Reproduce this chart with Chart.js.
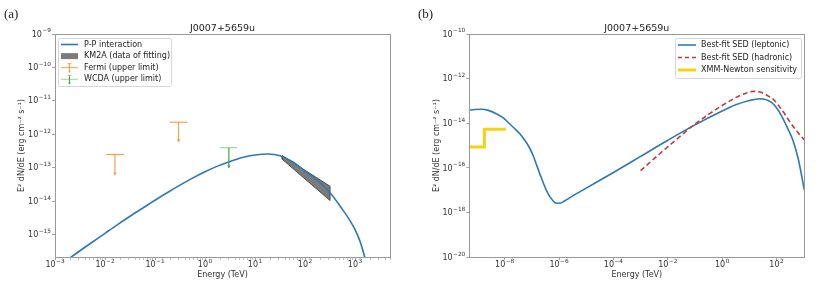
<!DOCTYPE html>
<html>
<head>
<meta charset="utf-8">
<script src="https://cdn.jsdelivr.net/npm/chart.js@4/dist/chart.umd.min.js"></script>
<style>
  html, body { margin: 0; padding: 0; background: #fff; }
  #wrap { position: relative; width: 831px; height: 289px; overflow: hidden; }
  canvas { position: absolute; top: 0; }
</style>
</head>
<body>
<div id="wrap">
  <canvas id="chart-a" width="415" height="289" style="left:0"></canvas>
  <canvas id="chart-b" width="416" height="289" style="left:415px"></canvas>
</div>
<script>
  // source name shown above both panels
  var sourceName = 'J0007+5659u';
  var xTitle = 'Energy (TeV)';
  var yTitle = 'E\u00b2 dN/dE (erg cm\u207b\u00b2 s\u207b\u00b9)';

  // ---- panel (a): p-p model against KM2A / Fermi / WCDA ----
  var ppEnergy = [1.78e-3, 3.16e-3, 5.62e-3, 1e-2, 1.78e-2, 3.16e-2, 5.62e-2, 0.1, 0.178, 0.316, 0.562, 1, 1.78, 3.16, 5.62, 10, 17.8, 31.6, 56.2, 100, 178, 316, 562, 794, 1000, 1259, 1585];
  var ppFlux = [1.78e-16, 3.31e-16, 6.03e-16, 1.10e-15, 2.0e-15, 3.55e-15, 6.17e-15, 1.07e-14, 1.82e-14, 3.02e-14, 4.9e-14, 7.59e-14, 1.12e-13, 1.55e-13, 2.04e-13, 2.4e-13, 2.57e-13, 2.29e-13, 1.51e-13, 7.94e-14, 4.17e-14, 1.78e-14, 5.62e-15, 2.63e-15, 1.41e-15, 6.3e-16, 2.0e-16];

  var km2aEnergy = [35, 316];
  var km2aUpper = [2.3e-13, 2.8e-14];
  var km2aLower = [1.8e-13, 1.05e-14];

  var fermiEnergy = [0.0158, 0.295];
  var fermiELo = [0.0105, 0.195];
  var fermiEHi = [0.024, 0.447];
  var fermiUL = [2.5e-13, 2.3e-12];
  var fermiTip = [6.8e-14, 6.5e-13];

  var wcdaEnergy = [3.0];
  var wcdaELo = [2.0];
  var wcdaEHi = [4.4];
  var wcdaUL = [4.0e-13];
  var wcdaTip = [1.1e-13];

  var xExpA = [-3, -2, -1, 0, 1, 2, 3];
  var yExpA = [-15, -14, -13, -12, -11, -10, -9];

  // ---- panel (b): leptonic vs hadronic best fit, XMM sensitivity ----
  var lepEnergy = [4.8e-10, 7.9e-10, 1.38e-9, 2.5e-9, 4.9e-9, 8.9e-9, 1.51e-8, 2.5e-8, 3.55e-8, 5.5e-8, 7.9e-8, 1.12e-7, 1.48e-7, 2.24e-7, 3.39e-7, 4.47e-7, 6.0e-7, 7.9e-7, 1.12e-6, 1.58e-6, 3.16e-6, 1e-5, 1e-4, 1e-3, 1e-2, 0.1, 1, 3.16, 10, 25.1, 63.1, 100, 158, 251, 398, 631, 1047];
  var lepFlux = [3.8e-14, 4.17e-14, 4.27e-14, 3.8e-14, 2.69e-14, 1.74e-14, 9.55e-15, 5.37e-15, 3.47e-15, 1.74e-15, 8.7e-16, 3.55e-16, 1.41e-16, 3.55e-17, 1.02e-17, 5.5e-18, 3.39e-18, 2.63e-18, 2.69e-18, 3.31e-18, 5.62e-18, 1.26e-17, 6.3e-17, 3.31e-16, 1.74e-15, 8.5e-15, 3.55e-14, 6.76e-14, 1.05e-13, 1.26e-13, 8.9e-14, 5.0e-14, 2.0e-14, 6.3e-15, 1.78e-15, 2.51e-16, 1.05e-17];

  var hadEnergy = [1e-3, 3.16e-3, 1e-2, 3.16e-2, 0.1, 0.316, 1, 3.16, 7.9, 14.1, 25.1, 50.1, 79.4, 158, 316, 562, 1047];
  var hadFlux = [7.6e-17, 2.63e-16, 8.9e-16, 2.95e-15, 9.3e-15, 2.51e-14, 6.3e-14, 1.41e-13, 2.29e-13, 2.69e-13, 2.51e-13, 1.66e-13, 1.12e-13, 3.98e-14, 1.12e-14, 4.47e-15, 1.78e-15];

  var xmmEnergy = [4.8e-10, 1.8e-9, 1.8e-9, 1.1e-8];
  var xmmFlux = [8.7e-16, 8.7e-16, 5.4e-15, 5.4e-15];

  var xExpB = [-8, -6, -4, -2, 0, 2];
  var yExpB = [-20, -18, -16, -14, -12, -10];

  var FONT = 'DejaVu Sans';
  var BLUE = '#2e78b5';
  var RED = '#c23b3f';
  var ORANGE = 'rgba(255,127,14,0.75)';
  var GREEN = 'rgba(44,160,44,0.9)';
  var GREEN_CAP = 'rgba(44,160,44,0.45)';
  var YELLOW = '#f7d20e';
  var AXIS = '#999';
  var LABEL = '#333';

  function pts(xs, ys) {
    return xs.map(function (x, i) { return { x: x, y: ys[i] }; });
  }

  function tickList(exps, withMinor, lo, hi) {
    var out = [];
    exps.forEach(function (e) {
      out.push({ value: Math.pow(10, e), major: true, exp: e });
      if (withMinor) {
        for (var m = 2; m < 10; m++) out.push({ value: m * Math.pow(10, e), major: false });
      }
    });
    return out.filter(function (t) { return t.value >= lo * 0.999 && t.value <= hi * 1.001; })
      .sort(function (a, b) { return a.value - b.value; });
  }

  // upper-limit markers: cap line + stem with a small arrow tip
  function upperLimitSets(es, lo, hi, ul, tip, stemColor, capColor) {
    var sets = [];
    es.forEach(function (e, i) {
      sets.push({ data: [{ x: lo[i], y: ul[i] }, { x: hi[i], y: ul[i] }], borderColor: capColor, borderWidth: 1.2, pointRadius: 0, showLine: true });
      sets.push({ data: [{ x: e, y: ul[i] }, { x: e, y: tip[i] }], borderColor: stemColor, borderWidth: 1.2, showLine: true,
        pointRadius: [0, 2], pointStyle: 'triangle', rotation: 180, pointBackgroundColor: stemColor, pointBorderWidth: 0 });
    });
    return sets;
  }

  function scaleOpts(min, max, exps, minor, isX, padFit) {
    return {
      type: 'logarithmic',
      min: min,
      max: max,
      afterBuildTicks: function (s) { s.ticks = tickList(exps, minor, min, max); },
      afterFit: function (s) { if (isX) s.height = padFit; else s.width = padFit; },
      border: { display: false },
      grid: {
        display: true, drawOnChartArea: false, drawTicks: true, tickLength: 3,
        color: AXIS,
        lineWidth: function (ctx) { return ctx.tick && ctx.tick.major ? 0.9 : 0.6; }
      },
      ticks: {
        autoSkip: false, maxRotation: 0, minRotation: 0,
        font: { family: FONT, size: 8 },
        // labels are drawn by the frame plugin so the exponent can be raised
        callback: function () { return ''; }
      }
    };
  }

  // "10" with a raised exponent, anchored by alignment
  function drawPow(c, exp, x, y, align) {
    var base = '10';
    var sup = String(exp).replace('-', '\u2212');
    c.font = '8px ' + FONT;
    var wb = c.measureText(base).width;
    c.font = '5.8px ' + FONT;
    var ws = c.measureText(sup).width;
    var total = wb + ws + 0.5;
    var left = align === 'right' ? x - total : x - total / 2;
    c.textAlign = 'left';
    c.textBaseline = 'middle';
    c.font = '8px ' + FONT;
    c.fillText(base, left, y);
    c.font = '5.8px ' + FONT;
    c.fillText(sup, left + wb + 0.5, y - 3.6);
  }

  var framePlugin = {
    id: 'frame',
    afterDraw: function (chart, args, opts) {
      var c = chart.ctx, a = chart.chartArea;
      var xs = chart.scales.x, ys = chart.scales.y;
      c.save();
      c.strokeStyle = AXIS;
      c.lineWidth = 1;
      c.strokeRect(Math.round(a.left) + 0.5, Math.round(a.top) + 0.5, Math.round(a.right - a.left), Math.round(a.bottom - a.top));

      // tick labels
      c.fillStyle = LABEL;
      xs.ticks.forEach(function (t) {
        if (t.major) drawPow(c, t.exp, xs.getPixelForValue(t.value), a.bottom + 8, 'center');
      });
      ys.ticks.forEach(function (t) {
        if (t.major) drawPow(c, t.exp, a.left - 4, ys.getPixelForValue(t.value) + 0.5, 'right');
      });

      c.fillStyle = '#222';
      c.font = '13px "Liberation Serif"';
      c.textAlign = 'left';
      c.textBaseline = 'middle';
      c.fillText(opts.letter, opts.letterX, 15);

      c.font = '9.5px ' + FONT;
      c.textAlign = 'center';
      c.textBaseline = 'alphabetic';
      c.fillText(sourceName, (a.left + a.right) / 2, 31);

      c.fillStyle = LABEL;
      c.font = '8px ' + FONT;
      c.fillText(xTitle, (a.left + a.right) / 2, 277);
      c.save();
      c.translate(opts.yTitleX, (a.top + a.bottom) / 2);
      c.rotate(-Math.PI / 2);
      c.textBaseline = 'middle';
      c.fillText(yTitle, 0, 0);
      c.restore();

      // legend
      var L = opts.legend;
      c.fillStyle = 'rgba(255,255,255,0.85)';
      c.strokeStyle = '#d6d6d6';
      c.lineWidth = 1;
      c.beginPath();
      c.roundRect(L.x + 0.5, L.y + 0.5, L.w, L.h, 2);
      c.fill();
      c.stroke();
      L.items.forEach(function (it, i) {
        var y = L.y + L.first + i * L.step;
        var hx = L.x + 3, hw = L.handle;
        c.save();
        if (it.kind === 'line' || it.kind === 'dash') {
          c.strokeStyle = it.color;
          c.lineWidth = it.width;
          if (it.kind === 'dash') c.setLineDash([4, 3]);
          c.beginPath(); c.moveTo(hx, y); c.lineTo(hx + hw, y); c.stroke();
        } else if (it.kind === 'patch') {
          c.fillStyle = it.color;
          c.fillRect(hx, y - 3, hw, 6);
        } else if (it.kind === 'ul') {
          var mx = hx + hw / 2;
          c.strokeStyle = it.cap;
          c.lineWidth = 1;
          c.beginPath(); c.moveTo(hx, y); c.lineTo(hx + hw, y); c.stroke();
          c.beginPath(); c.moveTo(mx - 2, y - 4); c.lineTo(mx + 2, y - 4); c.stroke();
          c.strokeStyle = it.color;
          c.beginPath(); c.moveTo(mx, y - 4); c.lineTo(mx, y + 4); c.stroke();
          c.fillStyle = it.color;
          c.beginPath(); c.arc(mx, y + 4, 1, 0, Math.PI * 2); c.fill();
        }
        c.restore();
        c.fillStyle = '#222';
        c.font = '8px ' + FONT;
        c.textAlign = 'left';
        c.textBaseline = 'middle';
        c.fillText(it.label, L.x + L.textOff, y);
      });
      c.restore();
    }
  };

  var km2aPoly = pts(
    [km2aEnergy[0], km2aEnergy[1], km2aEnergy[1], km2aEnergy[0], km2aEnergy[0]],
    [km2aLower[0], km2aLower[1], km2aUpper[1], km2aUpper[0], km2aLower[0]]
  );

  var datasetsA = [
    { label: 'P-P interaction', data: pts(ppEnergy, ppFlux), borderColor: BLUE, borderWidth: 1.6, pointRadius: 0, showLine: true, cubicInterpolationMode: 'monotone', order: 0 },
    { label: 'KM2A (data of fitting)', data: km2aPoly, borderColor: '#4a4a4a', borderWidth: 1, backgroundColor: 'rgba(100,100,100,0.85)', fill: 'shape', pointRadius: 0, showLine: true, order: 1 }
  ].concat(
    upperLimitSets(fermiEnergy, fermiELo, fermiEHi, fermiUL, fermiTip, ORANGE, ORANGE),
    upperLimitSets(wcdaEnergy, wcdaELo, wcdaEHi, wcdaUL, wcdaTip, GREEN, GREEN_CAP)
  );

  new Chart(document.getElementById('chart-a'), {
    type: 'scatter',
    data: { datasets: datasetsA },
    options: {
      responsive: false,
      animation: false,
      devicePixelRatio: 1,
      layout: { padding: { left: 0, right: 25, top: 34, bottom: 0 } },
      scales: {
        x: scaleOpts(1e-3, 5e3, xExpA, true, true, 32),
        y: scaleOpts(2.15e-16, 1e-9, yExpA, false, false, 55)
      },
      plugins: {
        legend: { display: false },
        tooltip: { enabled: false },
        frame: {
          letter: '(a)', letterX: 4, yTitleX: 22,
          legend: {
            x: 58, y: 38, w: 113, h: 48, first: 6.5, step: 11.6, handle: 17, textOff: 26,
            items: [
              { kind: 'line', color: BLUE, width: 1.6, label: 'P-P interaction' },
              { kind: 'patch', color: 'rgba(100,100,100,0.85)', label: 'KM2A (data of fitting)' },
              { kind: 'ul', color: ORANGE, cap: ORANGE, label: 'Fermi (upper limit)' },
              { kind: 'ul', color: GREEN, cap: GREEN_CAP, label: 'WCDA (upper limit)' }
            ]
          }
        }
      }
    },
    plugins: [framePlugin]
  });

  new Chart(document.getElementById('chart-b'), {
    type: 'scatter',
    data: {
      datasets: [
        { label: 'Best-fit SED (leptonic)', data: pts(lepEnergy, lepFlux), borderColor: BLUE, borderWidth: 1.6, pointRadius: 0, showLine: true, cubicInterpolationMode: 'monotone', order: 1 },
        { label: 'Best-fit SED (hadronic)', data: pts(hadEnergy, hadFlux), borderColor: RED, borderWidth: 1.6, borderDash: [5, 3], pointRadius: 0, showLine: true, cubicInterpolationMode: 'monotone', order: 0 },
        { label: 'XMM-Newton sensitivity', data: pts(xmmEnergy, xmmFlux), borderColor: YELLOW, borderWidth: 3, pointRadius: 0, showLine: true, order: 2 }
      ]
    },
    options: {
      responsive: false,
      animation: false,
      devicePixelRatio: 1,
      layout: { padding: { left: 0, right: 26.7, top: 34, bottom: 0 } },
      scales: {
        x: scaleOpts(5e-10, 1.05e3, xExpB, false, true, 31.7),
        y: scaleOpts(1e-20, 1e-10, yExpB, false, false, 54.3)
      },
      plugins: {
        legend: { display: false },
        tooltip: { enabled: false },
        frame: {
          letter: '(b)', letterX: 3, yTitleX: 22,
          legend: {
            x: 260, y: 38, w: 126, h: 40, first: 7, step: 12.5, handle: 18, textOff: 26,
            items: [
              { kind: 'line', color: BLUE, width: 1.6, label: 'Best-fit SED (leptonic)' },
              { kind: 'dash', color: RED, width: 1.6, label: 'Best-fit SED (hadronic)' },
              { kind: 'line', color: YELLOW, width: 3, label: 'XMM-Newton sensitivity' }
            ]
          }
        }
      }
    },
    plugins: [framePlugin]
  });
</script>
</body>
</html>
